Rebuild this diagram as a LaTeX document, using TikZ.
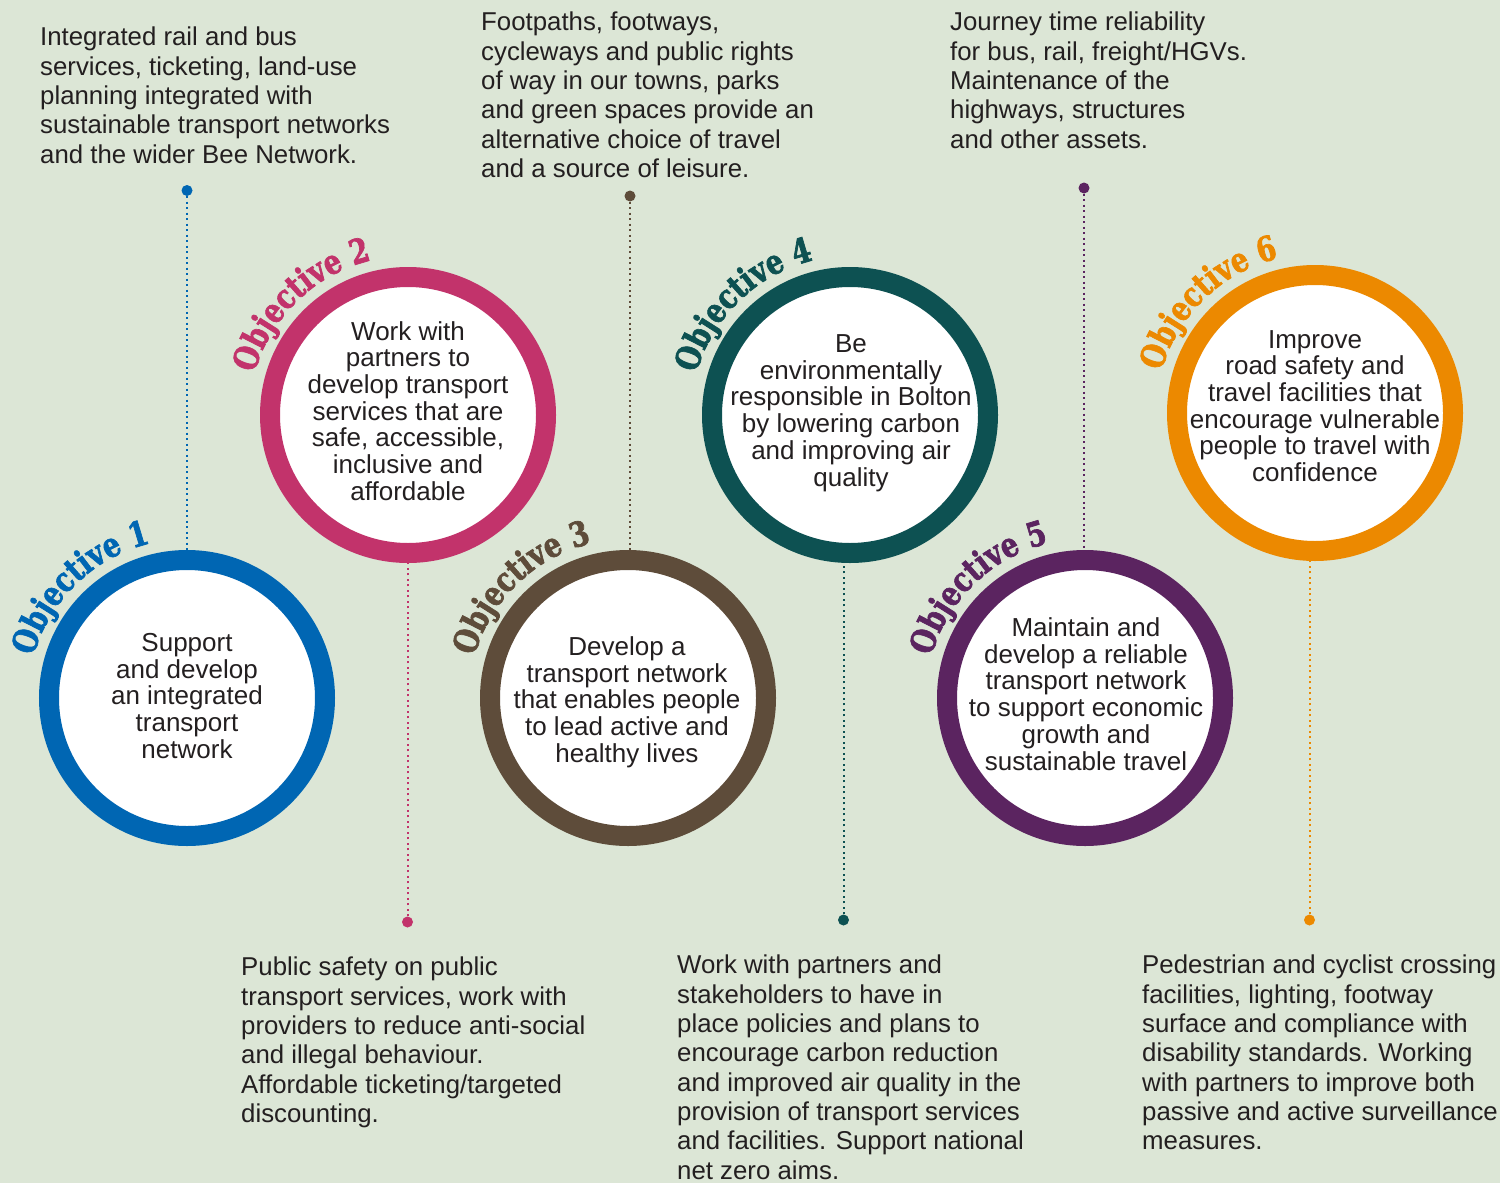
\documentclass[tikz,border=0pt]{standalone}
\usepackage{fontspec}
\setmainfont{Liberation Sans}
\newfontfamily\objfont{DejaVu Serif}[FakeStretch=0.8, BoldFeatures={FakeBold=2}]
\usetikzlibrary{positioning,decorations.text,calc}

\definecolor{bgsage}{RGB}{220,230,214}
\definecolor{ink}{RGB}{35,31,32}
\definecolor{objA}{RGB}{0,102,179}
\definecolor{objB}{RGB}{194,51,107}
\definecolor{objC}{RGB}{94,76,58}
\definecolor{objD}{RGB}{13,81,82}
\definecolor{objE}{RGB}{91,36,96}
\definecolor{objF}{RGB}{236,137,0}

\tikzset{
  ring/.style={circle, draw=#1, line width=20pt, fill=white, minimum size=276pt, inner sep=0pt},
  ctext/.style={align=center, text=ink, inner sep=0pt, font=\fontsize{26}{26.7}\selectfont},
  note/.style={align=left, anchor=north west, text=ink, inner sep=0pt, font=\fontsize{25.8}{29.3}\selectfont},
  pindot/.style={circle, fill=#1, inner sep=0pt, minimum size=11pt},
  dotline/.style={draw=#1, line width=2pt, dash pattern=on 2pt off 3.5pt},
}

\begin{document}
\begin{tikzpicture}[x=1pt,y=1pt,yscale=-1]
  \fill[bgsage] (0,0) rectangle (1500,1183);
  \useasboundingbox (0,0) rectangle (1500,1183);

  % circles
  \node[ring=objA] (c1) at (187,698) {};
  \node[ring=objB] (c2) at (408,415) {};
  \node[ring=objC] (c3) at (628,698) {};
  \node[ring=objD] (c4) at (850,415) {};
  \node[ring=objE] (c5) at (1085,698) {};
  \node[ring=objF] (c6) at (1315,413) {};

  \node[ctext] (s1) at (187,696) {Support\\and develop\\an integrated\\transport\\network};
  \node[ctext] (s2) at (408,411) {Work with\\partners to\\develop transport\\services that are\\safe, accessible,\\inclusive and\\affordable};
  \node[ctext] (s3) at (627,702) {Develop a\\transport network\\that enables people\\to lead active and\\healthy lives};
  \node[ctext] (s4) at (851,413) {Be\\environmentally\\responsible in Bolton\\by lowering carbon\\and improving air\\quality};
  \node[ctext] (s5) at (1086,694) {Maintain and\\develop a reliable\\transport network\\to support economic\\growth and\\sustainable travel};
  \node[ctext] (s6) at (1315,406) {Improve\\road safety and\\travel facilities that\\encourage vulnerable\\people to travel with\\confidence};

  % curved titles
  \foreach \c/\col/\n in {c1/objA/1, c2/objB/2, c3/objC/3, c4/objD/4, c5/objE/5, c6/objF/6}
    \path[decorate, decoration={text along path, text align=center,
        text={|\objfont\bfseries\fontsize{34}{34}\selectfont\color{\col}|Objective \n}}]
      ($(\c)+(-190:159)$) arc[start angle=-190, end angle=-78, radius=159];

  % pins
  \node[pindot=objA] (d1) at (187,190.5) {};
  \node[pindot=objB] (d2) at (407.5,922) {};
  \node[pindot=objC] (d3) at (630,196) {};
  \node[pindot=objD] (d4) at (843.5,920) {};
  \node[pindot=objE] (d5) at (1084,188) {};
  \node[pindot=objF] (d6) at (1309.5,920) {};

  \draw[dotline=objA] (d1) -- (d1 |- c1.north);
  \draw[dotline=objB] (d2) -- (d2 |- c2.south);
  \draw[dotline=objC] (d3) -- (d3 |- c3.north);
  \draw[dotline=objD] (d4) -- (d4 |- c4.south);
  \draw[dotline=objE] (d5) -- (d5 |- c5.north);
  \draw[dotline=objF] (d6) -- (d6 |- c6.south);

  % notes
  \node[note] (n1) at (40,27) {Integrated rail and bus\\services, ticketing, land-use\\planning integrated with\\sustainable transport networks\\and the wider Bee Network.};
  \node[note] (n3) at (481,12) {Footpaths, footways,\\cycleways and public rights\\of way in our towns, parks\\and green spaces provide an\\alternative choice of travel\\and a source of leisure.};
  \node[note] (n5) at (950,12) {Journey time reliability\\for bus, rail, freight/HGVs.\\Maintenance of the\\highways, structures\\and other assets.};
  \node[note] (n2) at (241,957) {Public safety on public\\transport services, work with\\providers to reduce anti-social\\and illegal behaviour.\\Affordable ticketing/targeted\\discounting.};
  \node[note] (n4) at (677,955) {Work with partners and\\stakeholders to have in\\place policies and plans to\\encourage carbon reduction\\and improved air quality in the\\provision of transport services\\and facilities. Support national\\net zero aims.};
  \node[note] (n6) at (1142,955) {Pedestrian and cyclist crossing\\facilities, lighting, footway\\surface and compliance with\\disability standards. Working\\with partners to improve both\\passive and active surveillance\\measures.};
\end{tikzpicture}
\end{document}
